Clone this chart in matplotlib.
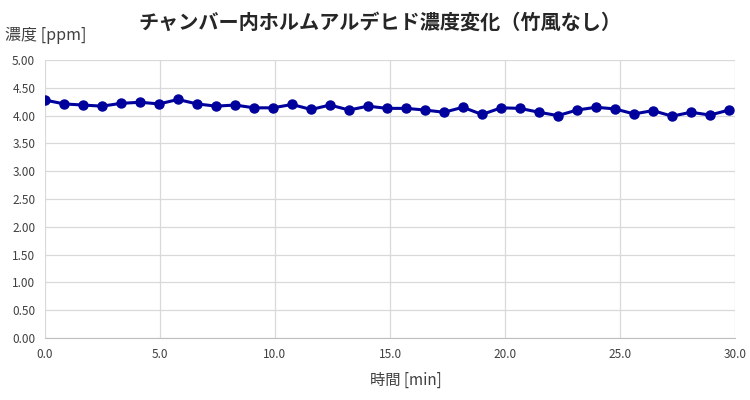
import numpy as np
import matplotlib.pyplot as plt
from matplotlib.ticker import FormatStrFormatter

plt.rcParams['font.family'] = ['Noto Sans CJK JP', 'DejaVu Sans']

# data
time_min = [0.0, 0.83, 1.65, 2.48, 3.3, 4.13, 4.96, 5.78, 6.61, 7.44,
            8.26, 9.09, 9.91, 10.74, 11.57, 12.39, 13.22, 14.04, 14.87, 15.7,
            16.52, 17.35, 18.17, 19.0, 19.83, 20.65, 21.48, 22.3, 23.13, 23.96,
            24.78, 25.61, 26.43, 27.26, 28.09, 28.91, 29.74]
conc_ppm = [4.28, 4.21, 4.19, 4.17, 4.22, 4.24, 4.21, 4.29, 4.21, 4.17,
            4.19, 4.14, 4.14, 4.20, 4.11, 4.19, 4.10, 4.17, 4.13, 4.13,
            4.10, 4.06, 4.15, 4.02, 4.14, 4.13, 4.06, 4.00, 4.10, 4.15,
            4.12, 4.03, 4.09, 3.99, 4.06, 4.01, 4.10]

fig, ax = plt.subplots(figsize=(7.5, 4), dpi=100)
plt.subplots_adjust(left=0.06, right=0.98, top=0.85, bottom=0.155)

ax.plot(time_min, conc_ppm, color='#00009c', lw=2.2, marker='o', ms=6.5, zorder=3)

ax.set_xlim(0, 30)
ax.set_ylim(0, 5)
ax.set_xticks(np.arange(0, 30.1, 5))
ax.set_yticks(np.arange(0, 5.01, 0.5))
ax.xaxis.set_major_formatter(FormatStrFormatter('%.1f'))
ax.yaxis.set_major_formatter(FormatStrFormatter('%.2f'))
ax.tick_params(length=0, labelsize=8.5, colors='#404040', pad=7)

ax.grid(True, color='#d9d9d9', lw=0.9)
for s in ['top', 'right', 'left']:
    ax.spines[s].set_visible(False)
ax.spines['bottom'].set_color('#bfbfbf')

fig.text(0.507, 0.945, 'チャンバー内ホルムアルデヒド濃度変化（竹風なし）',
         ha='center', va='center', fontsize=14.5, fontweight='bold', color='#262626')
fig.text(0.007, 0.912, '濃度 [ppm]', ha='left', va='center', fontsize=11.5, color='#404040')
fig.text(0.541, 0.05, '時間 [min]', ha='center', va='center', fontsize=11, color='#404040')

fig.savefig('out.png', dpi=100)
